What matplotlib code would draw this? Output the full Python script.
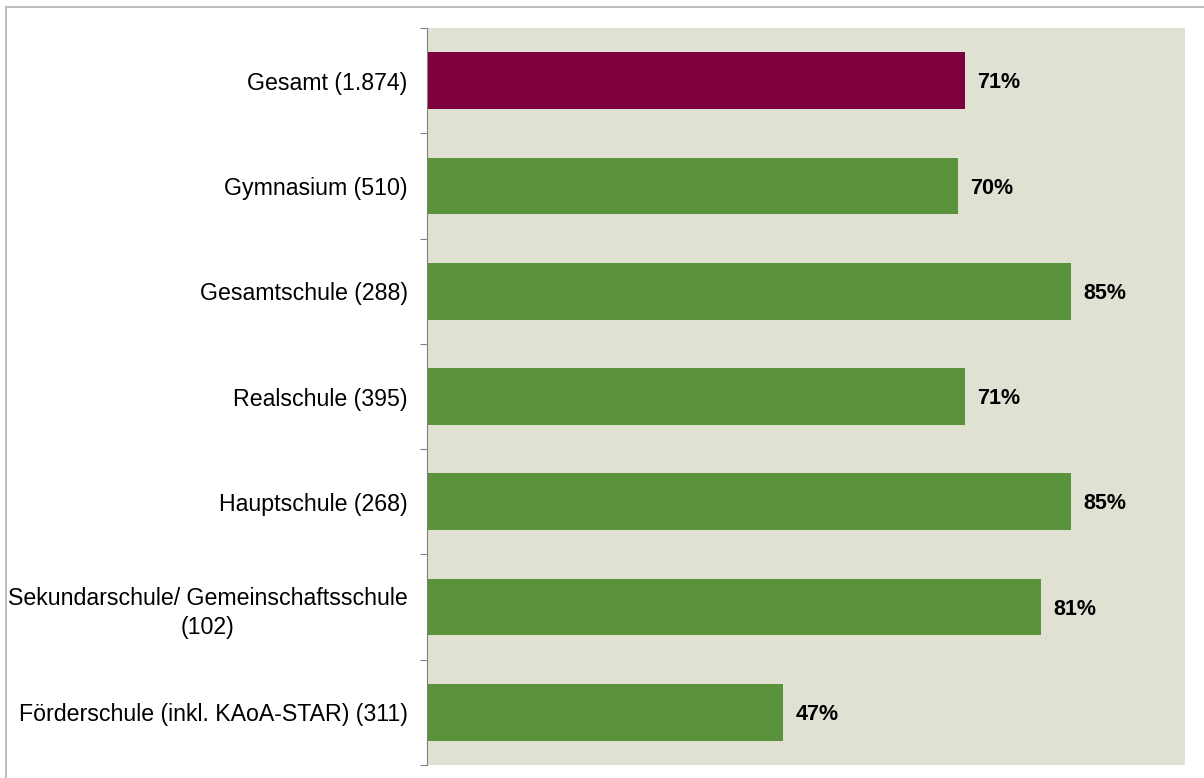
import matplotlib.pyplot as plt
import matplotlib.patches as mpatches
import numpy as np

plt.rcParams['font.family'] = ['Liberation Sans', 'DejaVu Sans']

# Kategorien und Werte (von oben nach unten)
categories = [
    "Gesamt (1.874)",
    "Gymnasium (510)",
    "Gesamtschule (288)",
    "Realschule (395)",
    "Hauptschule (268)",
    "Sekundarschule/ Gemeinschaftsschule\n(102)",
    "Förderschule (inkl. KAoA-STAR) (311)",
]
values = [71, 70, 85, 71, 85, 81, 47]

colors = ["#7F003F"] + ["#5B923C"] * (len(values) - 1)

fig = plt.figure(figsize=(12.04, 7.78), dpi=100)
ax = fig.add_axes([427 / 1204, 1 - 765 / 778, (1185 - 427) / 1204, (765 - 28) / 778])

# Rahmen um die Grafik
fig.patches.append(mpatches.Rectangle((6 / 1204, -0.1), 1.2, 1 - 7 / 778 + 0.1,
                                      transform=fig.transFigure, fill=False,
                                      edgecolor="#BFBFBF", linewidth=1.5))

y = np.arange(len(values))
ax.barh(y, values, height=0.54, color=colors)

for yi, v in zip(y, values):
    ax.text(v + 1.6, yi + 0.02, f"{v}%", va="center", ha="left",
            fontsize=15.5, fontweight="bold")

ax.set_facecolor("#E0E1D3")
ax.set_xlim(0, 100)
ax.set_ylim(len(values) - 0.5, -0.5)
ax.set_xticks([])

# Trennstriche zwischen den Kategorien, Beschriftung in der Mitte
ax.set_yticks(np.arange(-0.5, len(values), 1))
ax.set_yticklabels([])
ax.tick_params(axis="y", which="major", length=5, color="#808080", direction="out")
ax.set_yticks(y, minor=True)
ax.set_yticklabels(categories, minor=True, fontsize=16.7, ha="right",
                   multialignment="center", linespacing=1.35)
ax.tick_params(axis="y", which="minor", length=0, pad=14)

for s in ["top", "right", "bottom"]:
    ax.spines[s].set_visible(False)
ax.spines["left"].set_color("#808080")

plt.savefig("out.png", dpi=100)
